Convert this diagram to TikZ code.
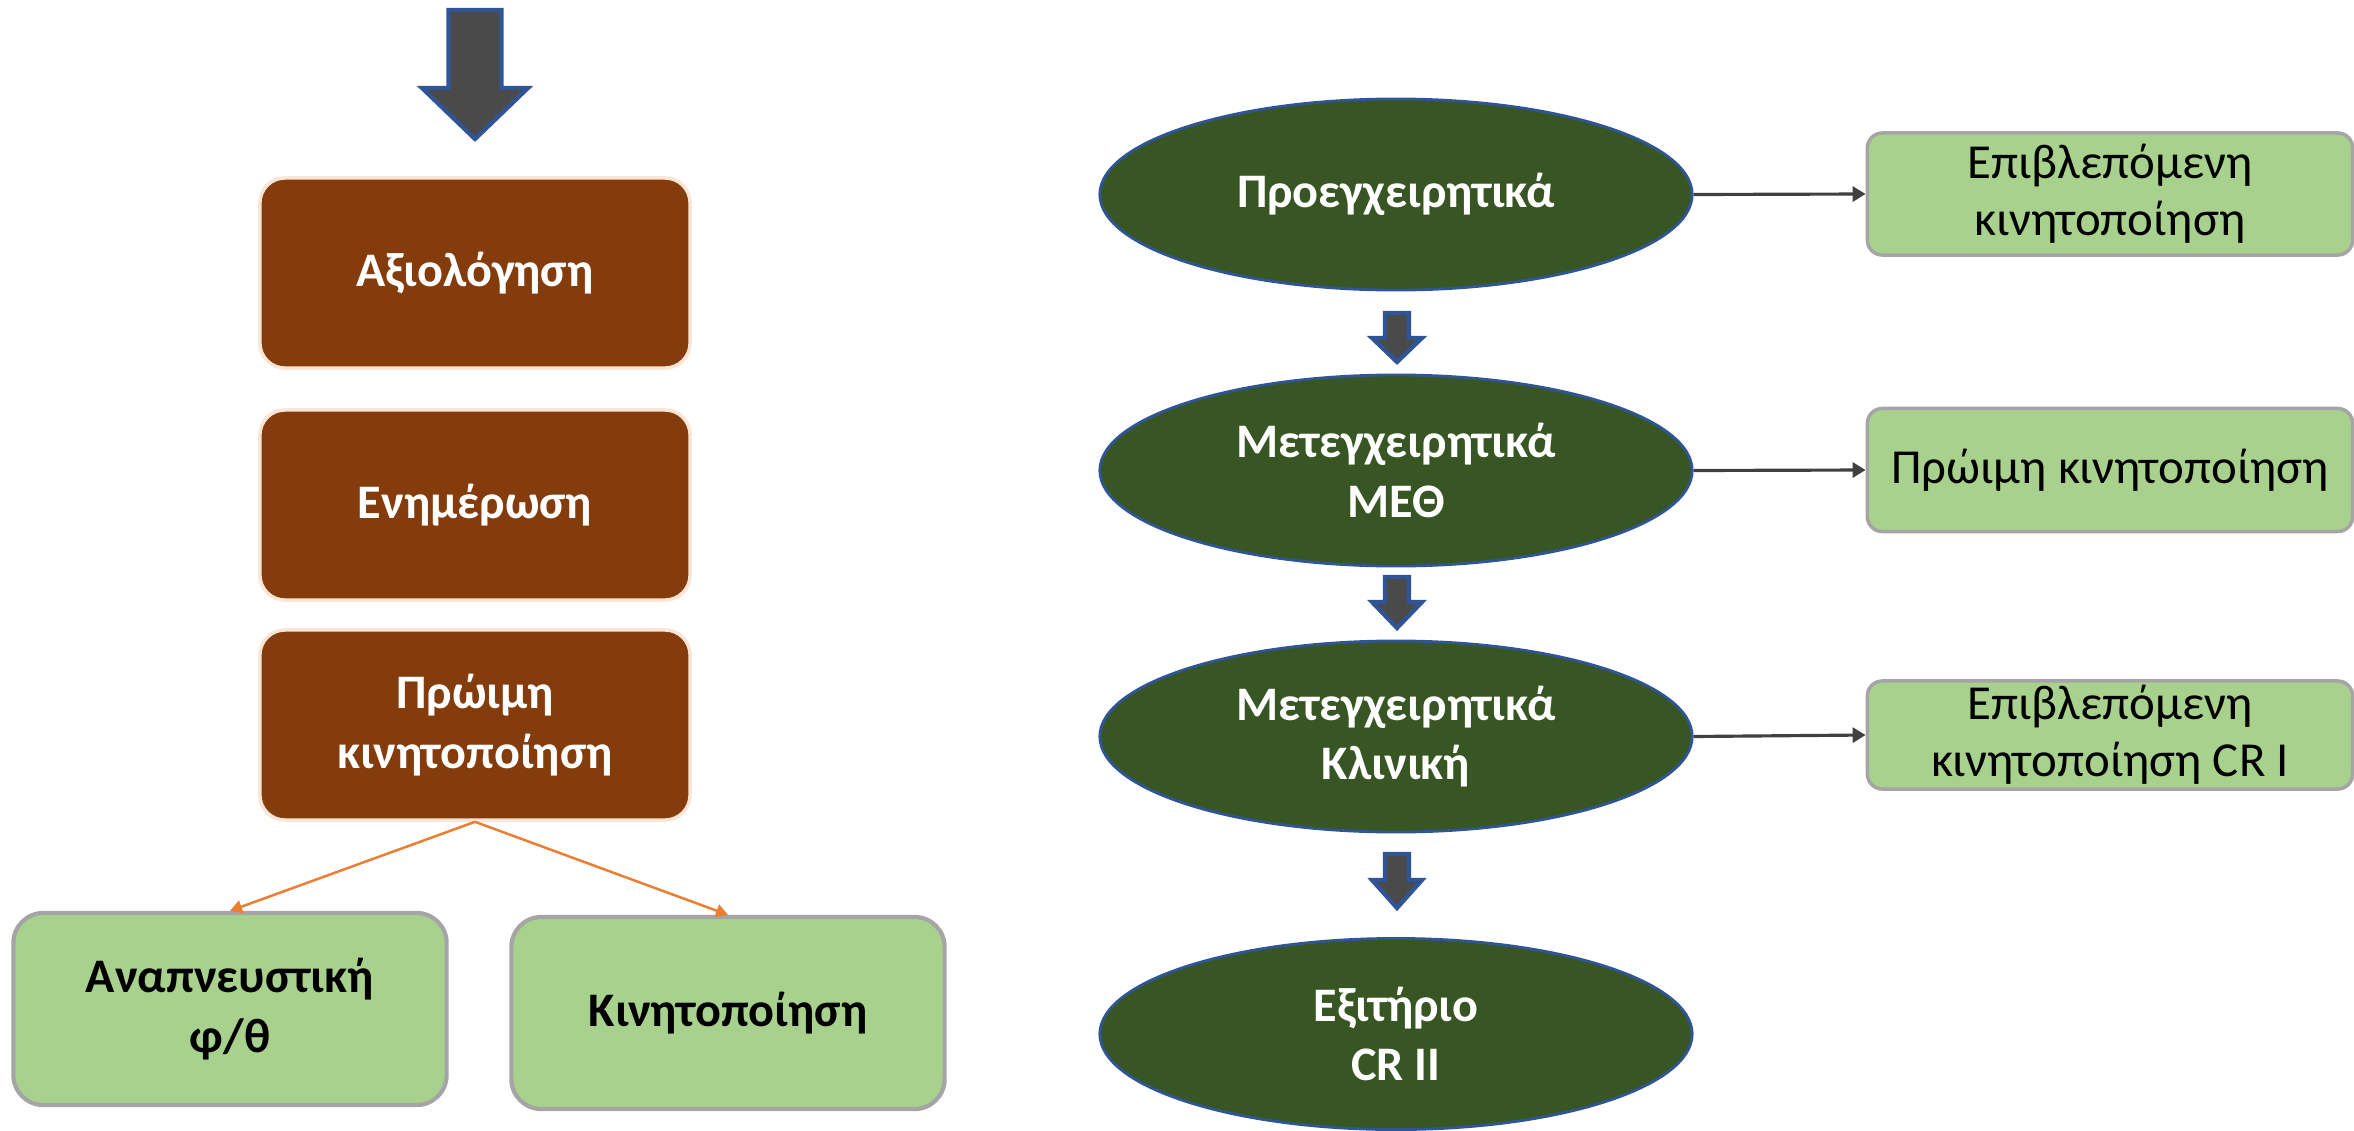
\documentclass[tikz,border=0pt]{standalone}
\usepackage{fontspec}
\setmainfont{Carlito}
\usetikzlibrary{shapes.geometric, arrows.meta}
\definecolor{boxbrown}{HTML}{843C0C}
\definecolor{peach}{HTML}{FBE5D6}
\definecolor{lightgreen}{HTML}{A9D18E}
\definecolor{boxgray}{HTML}{A5A5A5}
\definecolor{darkgreen}{HTML}{375623}
\definecolor{edgeblue}{HTML}{2F5597}
\definecolor{arrowgray}{HTML}{4A4A4A}
\definecolor{linkgray}{HTML}{404040}
\definecolor{orangeline}{HTML}{ED7D31}
\newcommand{\blockarrow}[6]{\draw[blockarr] (#1-#3,#2) -- (#1+#3,#2) -- (#1+#3,#5) -- (#1+#4,#5) -- (#1,#6) -- (#1-#4,#5) -- (#1-#3,#5) -- cycle;}

\begin{document}
\begin{tikzpicture}[x = 0.01cm, y = -0.01cm, font = \fontsize{13.9}{16.2}\selectfont,
  brownbox/.style = {rectangle, rounded corners = 0.25cm, fill = boxbrown, draw = peach, line width = 1pt, text = white, font = \fontsize{13.7}{17}\selectfont\bfseries, minimum width = 4.3cm, minimum height = 1.9cm, align = center},
  greenbox/.style = {rectangle, rounded corners = 0.3cm, fill = lightgreen, draw = boxgray, line width = 1.2pt, font = \fontsize{13.7}{17}\selectfont\bfseries, minimum width = 4.33cm, minimum height = 1.92cm, align = center},
  sidebox/.style = {rectangle, rounded corners = 0.15cm, fill = lightgreen, draw = boxgray, line width = 1pt, minimum width = 4.85cm, align = center, inner sep = 0pt},
  stage/.style = {ellipse, fill = darkgreen, draw = edgeblue, line width = 0.8pt, text = white, font = \fontsize{13.7}{17}\selectfont\bfseries, minimum width = 5.92cm, minimum height = 1.91cm, inner sep = 0pt, align = center},
  blockarr/.style = {fill = arrowgray, draw = edgeblue, line width = 1.2pt},
  link/.style = {draw = linkgray, line width = 0.9pt, -{Triangle[length = 0.13cm, width = 0.15cm]}},
  split/.style = {draw = orangeline, line width = 0.7pt, -{Triangle[length = 0.12cm, width = 0.13cm]}}]
\useasboundingbox (0,0) rectangle (2354,1130);
\blockarrow{475}{10}{26.5}{53}{88}{139}
\node[brownbox] (eval) at (475,273) {Αξιολόγηση};
\node[brownbox] (inform) at (475,505) {Ενημέρωση};
\node[brownbox] (early) at (475,725) {Πρώιμη\\κινητοποίηση};
\node[greenbox] (resp) at (230,1009) {Αναπνευστική\\φ/θ};
\node[greenbox] (mob) at (728,1013) {Κινητοποίηση};
\draw[split] (early.south) -- (resp.north);
\draw[split] (early.south) -- (mob.north);
\node[stage] (preop) at (1396,194.5) {Προεγχειρητικά};
\node[stage] (icu) at (1396,470.5) {Μετεγχειρητικά\\ΜΕΘ};
\node[stage] (ward) at (1396,736.5) {Μετεγχειρητικά\\Κλινική};
\node[stage] (exit) at (1396,1034) {Εξιτήριο\\CR II};
\blockarrow{1397}{313}{12}{25}{338}{362}
\blockarrow{1397}{577}{12}{25}{602}{628}
\blockarrow{1397}{854}{12}{25}{880}{908}
\node[sidebox, minimum height = 1.22cm] (watch) at (2110,194) {Επιβλεπόμενη\\κινητοποίηση};
\node[sidebox, minimum height = 1.23cm] (earlymob) at (2110,470) {Πρώιμη κινητοποίηση};
\node[sidebox, minimum height = 1.08cm] (watchcr) at (2110,735) {Επιβλεπόμενη\\κινητοποίηση CR I};
\draw[link] (preop.east) -- (watch.west);
\draw[link] (icu.east) -- (earlymob.west);
\draw[link] (ward.east) -- (watchcr.west);
\end{tikzpicture}
\end{document}
